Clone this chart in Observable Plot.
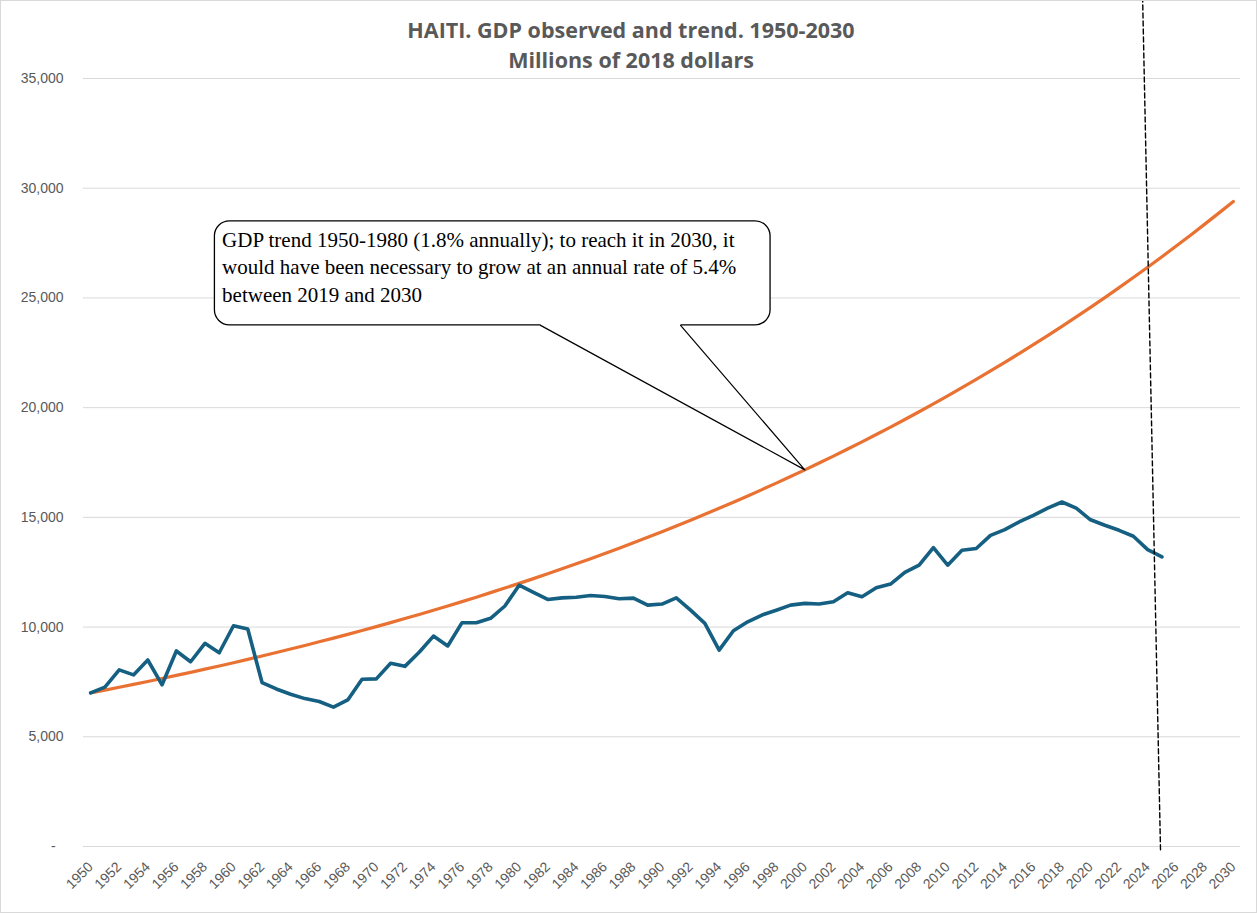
<!DOCTYPE html>
<html><head><meta charset="utf-8">
<script src="https://cdn.jsdelivr.net/npm/d3@7"></script>
<script src="https://cdn.jsdelivr.net/npm/@observablehq/plot@0.6"></script>
<style>
html,body{margin:0;padding:0;background:#fff;}
#chart svg{display:block;outline:1px solid #d9d9d9;outline-offset:-1px;}
</style></head><body><div id="chart"></div>
<script>
const titleLines = ["HAITI. GDP observed and trend. 1950-2030", "Millions of 2018 dollars"];
const calloutText = "GDP trend 1950-1980 (1.8% annually); to reach it in 2030, it\nwould have been necessary to grow at an annual rate of 5.4%\nbetween 2019 and 2030";

const observedYears = d3.range(1950, 2026);
const observedGdp = [7000,7260,8050,7820,8500,7370,8910,8420,9260,8830,
  10060,9910,7470,7180,6940,6740,6610,6350,6680,7620,
  7640,8350,8210,8850,9590,9140,10200,10200,10400,10960,
  11910,11580,11260,11330,11360,11440,11390,11290,11320,11000,
  11050,11330,10770,10170,8950,9830,10240,10550,10770,11000,
  11080,11050,11150,11560,11380,11790,11960,12490,12820,13620,
  12820,13500,13580,14180,14440,14790,15090,15420,15700,15420,
  14890,14640,14410,14140,13530,13200];

const trendYears = d3.range(1950, 2031);
const trendGdp = [7000,7127,7256,7387,7521,7657,7796,7937,8081,8227,
  8376,8528,8682,8839,8999,9162,9328,9497,9669,9844,
  10022,10203,10388,10576,10768,10963,11161,11363,11569,11778,
  11991,12208,12429,12654,12883,13116,13353,13595,13841,14091,
  14346,14606,14870,15139,15413,15692,15976,16265,16560,16860,
  17165,17476,17792,18114,18442,18775,19115,19461,19813,20172,
  20537,20909,21287,21672,22064,22464,22870,23284,23706,24135,
  24572,25016,25469,25930,26399,26877,27364,27859,28363,28876,29399];

const xTicks = d3.range(1950, 2031, 2);
const yTicks = [0, 5000, 10000, 15000, 20000, 25000, 30000, 35000];

// annotation geometry in data units (year, millions)
const calloutBox = [{x1: 1958.7, x2: 1997.6, y1: 23750, y2: 28490}];
const calloutPointer = [{year: 1981.5, gdp: 23750}, {year: 2000, gdp: 17165}, {year: 1991.3, gdp: 23750}];
const calloutGap = [{x1: 1981.5, x2: 1991.3, y: 23750}];
const dashLine = [{year: 2024.9, gdp: -150}, {year: 2023.65, gdp: 38600}];

const observed = observedYears.map((y, i) => ({year: y, gdp: observedGdp[i]}));
const trend = trendYears.map((y, i) => ({year: y, gdp: trendGdp[i]}));
const fmtY = d => d === 0 ? "-\u00a0\u00a0" : d3.format(",")(d);

const chart = Plot.plot({
  width: 1257, height: 913,
  marginLeft: 83, marginRight: 17, marginTop: 78, marginBottom: 67,
  style: {fontFamily: "'Liberation Sans', Arial, sans-serif", background: "#fff", overflow: "visible"},
  x: {domain: [1949.5, 2030.5], label: null, axis: null},
  y: {domain: [0, 35000], label: null, axis: null},
  marks: [
    Plot.gridY(yTicks, {stroke: "#d9d9d9", strokeOpacity: 1, strokeWidth: 1}),
    Plot.text(yTicks, {y: d => d, text: fmtY, frameAnchor: "left", dx: -20, textAnchor: "end",
      fontSize: 14, fill: "#595959", fontFamily: "'Liberation Sans', Arial, sans-serif"}),
    Plot.text(xTicks, {x: d => d, text: d => String(d), frameAnchor: "bottom", dy: 18, rotate: -45,
      textAnchor: "end", lineAnchor: "middle", fontSize: 14, fill: "#595959", fontFamily: "'Liberation Sans', Arial, sans-serif"}),
    Plot.line(trend, {x: "year", y: "gdp", stroke: "#E97132", strokeWidth: 3.2, strokeLinejoin: "round"}),
    Plot.line(observed, {x: "year", y: "gdp", stroke: "#156082", strokeWidth: 3.6, strokeLinejoin: "round"}),
    Plot.rect(calloutBox, {x1: "x1", x2: "x2", y1: "y1", y2: "y2", fill: "white", stroke: "black", strokeWidth: 1.3, rx: 15, ry: 15}),
    Plot.link(calloutGap, {x1: "x1", x2: "x2", y1: "y", y2: "y", stroke: "white", strokeWidth: 3}),
    Plot.line(calloutPointer, {x: "year", y: "gdp", stroke: "black", strokeWidth: 1.2}),
    Plot.text([calloutText], {x: 1959.2, y: 28200, text: d => d, textAnchor: "start", lineAnchor: "top",
      fontFamily: "'Liberation Serif', 'Times New Roman', serif", fontSize: 21, lineHeight: 1.3, fill: "black"}),
    Plot.line(dashLine, {x: "year", y: "gdp", stroke: "black", strokeWidth: 1.4, strokeDasharray: "5,3"}),
    Plot.text([titleLines[0]], {frameAnchor: "top", lineAnchor: "middle", dx: -31, dy: -47, text: d => d, fontWeight: "bold",
      fontSize: 21.5, fontFamily: "'Open Sans', sans-serif", fill: "#595959"}),
    Plot.text([titleLines[1]], {frameAnchor: "top", lineAnchor: "middle", dx: -31, dy: -17, text: d => d, fontWeight: "bold",
      fontSize: 21.5, fontFamily: "'Open Sans', sans-serif", fill: "#595959"})
  ]
});
document.getElementById("chart").appendChild(chart);
</script></body></html>
